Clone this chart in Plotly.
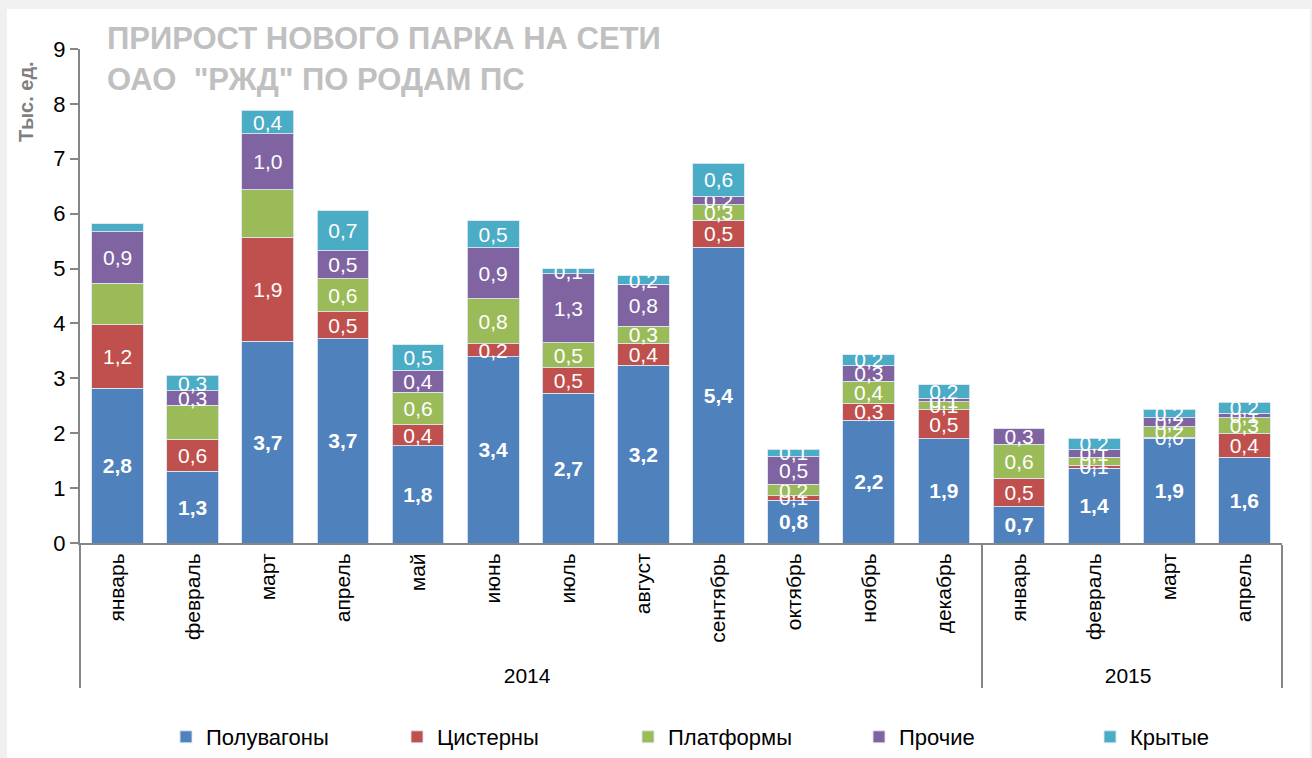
import plotly.graph_objects as go

years = ["2014"] * 12 + ["2015"] * 4
months = ["январь", "февраль", "март", "апрель", "май", "июнь", "июль", "август",
          "сентябрь", "октябрь", "ноябрь", "декабрь",
          "январь", "февраль", "март", "апрель"]

poluvagony = [2.82, 1.31, 3.68, 3.72, 1.77, 3.39, 2.73, 3.24, 5.39, 0.78, 2.24, 1.90, 0.66, 1.36, 1.91, 1.56]
cisterny   = [1.16, 0.58, 1.89, 0.49, 0.38, 0.24, 0.46, 0.40, 0.49, 0.08, 0.31, 0.53, 0.52, 0.06, 0.02, 0.43]
platformy  = [0.75, 0.62, 0.87, 0.60, 0.60, 0.82, 0.46, 0.31, 0.28, 0.21, 0.40, 0.14, 0.62, 0.14, 0.19, 0.29]
prochie    = [0.94, 0.26, 1.02, 0.51, 0.40, 0.93, 1.26, 0.76, 0.16, 0.50, 0.29, 0.07, 0.29, 0.14, 0.16, 0.08]
krytye     = [0.15, 0.29, 0.42, 0.73, 0.46, 0.49, 0.09, 0.16, 0.60, 0.14, 0.19, 0.24, 0.00, 0.21, 0.16, 0.20]

# indices of segments whose data label is not shown in the original
hidden_labels = {"Платформы": [0, 1, 2], "Крытые": [0, 12]}

series = [
    ("Полувагоны", poluvagony, "#4f81bd", True),
    ("Цистерны", cisterny, "#c0504d", False),
    ("Платформы", platformy, "#9bbb59", False),
    ("Прочие", prochie, "#8064a2", False),
    ("Крытые", krytye, "#4bacc6", False),
]

ARIAL = "Liberation Sans, Arial, sans-serif"
LABEL_SIZE = 21

fig = go.Figure()
for name, vals, color, bold in series:
    hide = hidden_labels.get(name, [])
    text = ["" if (i in hide) else f"{v:.1f}".replace(".", ",") for i, v in enumerate(vals)]
    fig.add_trace(go.Bar(
        name=name, x=[years, months], y=vals, text=text,
        textposition="inside", insidetextanchor="middle", textangle=0,
        textfont=dict(family=ARIAL, size=LABEL_SIZE, color="white",
                      weight="bold" if bold else "normal"),
        marker=dict(color=color, line=dict(color="rgba(220,230,242,0.9)", width=1)),
        hoverinfo="skip",
    ))

L, R, T, B = 80, 30, 49, 215
W, H = 1312, 758
pw, ph = W - L - R, H - T - B

fig.update_layout(
    width=W, height=H,
    barmode="stack", bargap=0.31,
    paper_bgcolor="#f0f0f0", plot_bgcolor="white",
    margin=dict(l=L, r=R, t=T, b=B, autoexpand=False),
    uniformtext=dict(minsize=LABEL_SIZE, mode="show"),
    showlegend=True,
    legend=dict(orientation="h", traceorder="normal", x=0.552, xanchor="center",
                y=(T + ph - 737) / ph, yanchor="middle",
                font=dict(family=ARIAL, size=22, color="black"),
                entrywidth=186, itemclick=False, bgcolor="rgba(0,0,0,0)"),
    xaxis=dict(type="multicategory", tickangle=-90, showline=True, linecolor="#868686",
               linewidth=2, ticks="", showgrid=False, automargin=False,
               tickfont=dict(family=ARIAL, size=21, color="black"),
               showdividers=True, dividercolor="#868686", dividerwidth=2),
    yaxis=dict(range=[0, 9], dtick=1, showline=True, linecolor="#868686", linewidth=2,
               ticks="outside", ticklen=8, tickcolor="#868686", tickwidth=2,
               showgrid=False, zeroline=False, automargin=False,
               tickfont=dict(family=ARIAL, size=22, color="black")),
    shapes=[dict(type="rect", xref="paper", yref="paper", layer="below",
                 x0=(7 - L) / pw, x1=(1310 - L) / pw,
                 y0=(T + ph - H) / ph, y1=(T + ph - 9) / ph,
                 fillcolor="white", line=dict(width=0))],
    annotations=[
        dict(text="ПРИРОСТ НОВОГО ПАРКА НА СЕТИ", xref="paper", yref="paper",
             x=(105 - L) / pw, xanchor="left", y=(T + ph - 38) / ph, yanchor="middle",
             showarrow=False, font=dict(family=ARIAL, size=31, color="#c0c0c0", weight="bold")),
        dict(text="ОАО\u00a0\u00a0\"РЖД\" ПО РОДАМ ПС", xref="paper", yref="paper",
             x=(105 - L) / pw, xanchor="left", y=(T + ph - 79) / ph, yanchor="middle",
             showarrow=False, font=dict(family=ARIAL, size=31, color="#c0c0c0", weight="bold")),
        dict(text="Тыс. ед.", xref="paper", yref="paper", textangle=-90,
             x=(26 - L) / pw, xanchor="center", y=(T + ph - 102) / ph, yanchor="middle",
             showarrow=False, font=dict(family=ARIAL, size=20, color="#7f7f7f", weight="bold")),
    ],
)

fig.write_html("out.html")
